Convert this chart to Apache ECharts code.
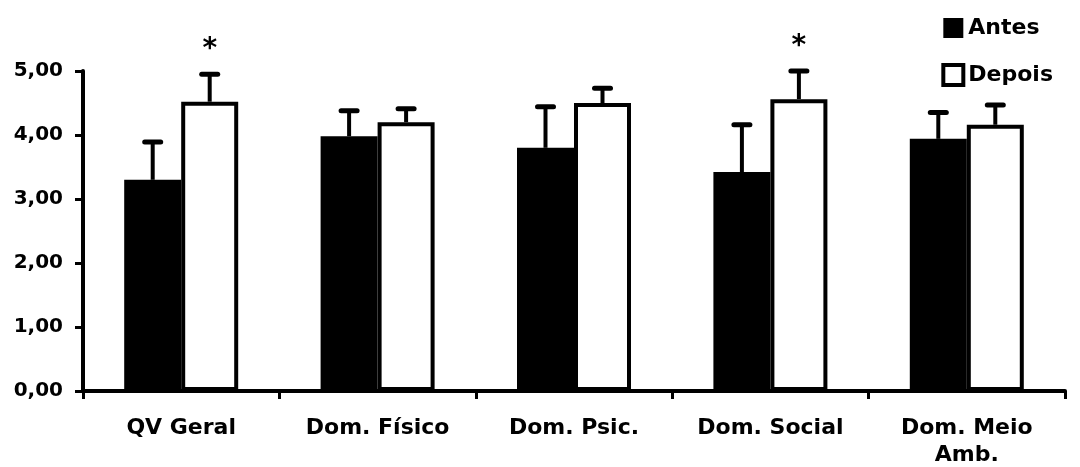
<!DOCTYPE html>
<html>
<head>
<meta charset="utf-8">
<script src="https://cdn.jsdelivr.net/npm/echarts@6/dist/echarts.min.js"></script>
<style>
  html, body { margin: 0; padding: 0; background: #fff; }
  #main { width: 1080px; height: 467px; }
</style>
</head>
<body>
<div id="main"></div>
<script>
// values (means and upper SD)
let categories = ['QV Geral', 'Dom. Físico', 'Dom. Psic.', 'Dom. Social', 'Dom. Meio\nAmb.'];
let antes = [3.30, 3.98, 3.80, 3.42, 3.94];
let antesSD = [0.59, 0.40, 0.64, 0.74, 0.41];
let depois = [4.52, 4.20, 4.50, 4.56, 4.16];
let depoisSD = [0.43, 0.21, 0.23, 0.44, 0.31];
let signif = ['*', '', '', '*', ''];
let yTicks = [0, 1, 2, 3, 4, 5];

const FONT = 'DejaVu Sans';
const BAR_W = 57;

function errData(means, sds, marks){
    let out = [];
    for (let i = 0; i < means.length; i++){
        out.push([i, means[i], +(means[i] + sds[i]).toFixed(2), marks ? marks[i] : '']);
    }
    return out;
}

function errRender(offset){
    return function(params, api){
        let base = api.coord([api.value(0), api.value(1)]);
        let top = api.coord([api.value(0), api.value(2)]);
        let x = base[0] + offset;
        let children = [
            {type: 'line', shape: {x1: x, y1: base[1], x2: x, y2: top[1]},
             style: {stroke: '#000', lineWidth: 4}},
            {type: 'line', shape: {x1: x - 8, y1: top[1], x2: x + 8, y2: top[1]},
             style: {stroke: '#000', lineWidth: 5, lineCap: 'round'}}
        ];
        let mark = api.value(3);
        if (mark && mark !== '-'){
            children.push({type: 'text', style: {
                x: x, y: top[1] - 10, text: mark, align: 'center', verticalAlign: 'bottom',
                font: 'bold 28px "DejaVu Sans"', fill: '#000'}});
        }
        return {type: 'group', children: children};
    };
}

let option = {
    backgroundColor: '#fff',
    animation: false,
    grid: {left: 83, right: 15, top: 71, bottom: 76, outerBoundsMode: 'none'},
    legend: {
        orient: 'vertical',
        right: 22,
        top: 12,
        itemWidth: 20,
        itemHeight: 20,
        itemGap: 24,
        icon: 'rect',
        data: [
            {name: 'Antes'},
            {name: 'Depois', itemStyle: {color: '#fff', borderColor: '#000', borderWidth: 4}}
        ],
        textStyle: {fontFamily: FONT, fontWeight: 'bold', fontSize: 22, color: '#000'}
    },
    xAxis: {
        type: 'category',
        data: categories,
        axisLine: {lineStyle: {color: '#000', width: 4}},
        axisTick: {show: true, length: 8, lineStyle: {color: '#000', width: 3}},
        axisLabel: {fontFamily: FONT, fontWeight: 'bold', fontSize: 22, color: '#000',
                    margin: 24, lineHeight: 27}
    },
    yAxis: {
        type: 'value',
        min: yTicks[0],
        max: yTicks[yTicks.length - 1],
        interval: 1,
        axisLine: {show: true, lineStyle: {color: '#000', width: 4}},
        axisTick: {show: true, length: 8, lineStyle: {color: '#000', width: 3}},
        splitLine: {show: false},
        axisLabel: {fontFamily: FONT, fontWeight: 'bold', fontSize: 20, color: '#000',
                    margin: 20, formatter: v => v.toFixed(2).replace('.', ',')}
    },
    series: [
        {
            name: 'Antes', type: 'bar', data: antes, barWidth: BAR_W, barGap: '0%',
            itemStyle: {color: '#000'}
        },
        {
            name: 'Depois', type: 'bar', data: depois, barWidth: BAR_W, barGap: '0%',
            itemStyle: {color: '#fff', borderColor: '#000', borderWidth: 4}
        },
        {
            type: 'custom', data: errData(antes, antesSD), renderItem: errRender(-BAR_W / 2),
            encode: {x: 0, y: [1, 2]}, z: 5, silent: true
        },
        {
            type: 'custom', data: errData(depois, depoisSD, signif), renderItem: errRender(BAR_W / 2),
            encode: {x: 0, y: [1, 2]}, z: 5, silent: true
        }
    ]
};

var chart = echarts.init(document.getElementById('main'));
chart.setOption(option);
</script>
</body>
</html>
